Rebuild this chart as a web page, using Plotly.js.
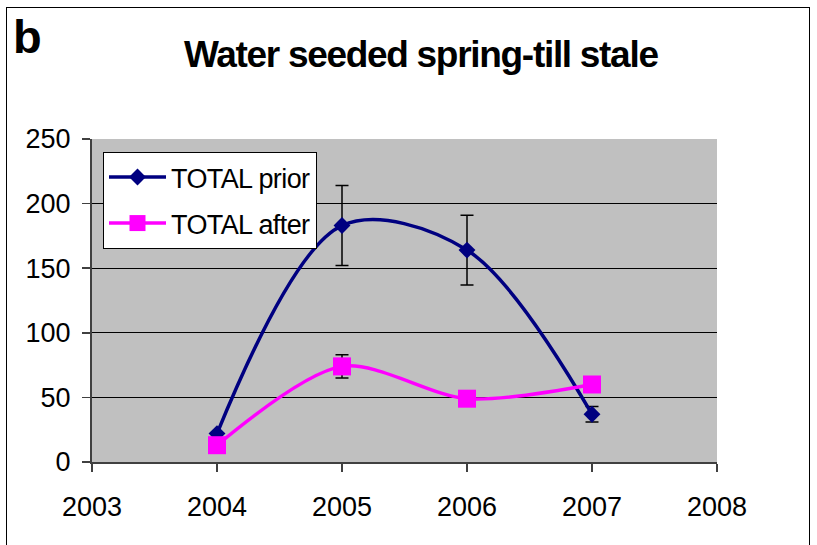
<!DOCTYPE html>
<html>
<head>
<meta charset="utf-8">
<script src="https://cdn.plot.ly/plotly-3.0.1.min.js"></script>
<style>
  html, body { margin: 0; padding: 0; background: #ffffff; }
  #wrap { position: relative; width: 817px; height: 545px; }
  #chart { width: 817px; height: 545px; }
  #frame { position: absolute; left: 6px; top: 7px; width: 804px; height: 560px;
           border: 1.5px solid #000; box-sizing: border-box; pointer-events: none; }
  .annotation-text { letter-spacing: -1.3px; }
  .legendtext { letter-spacing: -0.6px; }
</style>
</head>
<body>
<div id="wrap">
  <div id="chart"></div>
  <div id="frame"></div>
</div>
<script>
const years = [2004, 2005, 2006, 2007];
const totalPrior = [22, 183, 164, 37];
const totalPriorErr = [null, 31, 27, 6];
const totalAfter = [13, 74, 49, 60];
const totalAfterErr = [null, 9, null, null];
const xTicks = [2003, 2004, 2005, 2006, 2007, 2008];
const yTicks = [0, 50, 100, 150, 200, 250];

const font = 'Liberation Sans, Arial, sans-serif';

const traces = [
  {
    x: years, y: totalPrior, name: 'TOTAL prior', legendgroup: 'a',
    type: 'scatter', mode: 'lines+markers',
    line: { color: '#000080', width: 3.5, shape: 'spline', smoothing: 0.95 },
    marker: { symbol: 'diamond', size: 13, color: '#000080' },
    error_y: { type: 'data', array: totalPriorErr, visible: true, color: '#000000', thickness: 1.5, width: 6.5 }
  },
  {
    x: years, y: totalAfter, name: 'TOTAL after', legendgroup: 'b',
    type: 'scatter', mode: 'lines+markers',
    line: { color: '#FF00FF', width: 3.5, shape: 'spline', smoothing: 0.85 },
    marker: { symbol: 'square', size: 18, color: '#FF00FF' },
    error_y: { type: 'data', array: totalAfterErr, visible: true, color: '#000000', thickness: 1.5, width: 6.5 }
  }
];

const layout = {
  width: 817, height: 545,
  margin: { l: 92, r: 100, t: 139, b: 83 },
  paper_bgcolor: '#ffffff',
  plot_bgcolor: '#C0C0C0',
  font: { family: font, color: '#000000', size: 26 },
  showlegend: true,
  legend: {
    x: 0.0176, y: 0.96, xanchor: 'left', yanchor: 'top',
    bgcolor: '#ffffff', bordercolor: '#000000', borderwidth: 1,
    font: { family: font, size: 27, color: '#000000' },
    tracegroupgap: 8, traceorder: 'grouped', itemwidth: 57
  },
  xaxis: {
    range: [2003, 2008], tickvals: xTicks, ticktext: xTicks.map(String),
    showgrid: false, zeroline: false,
    showline: true, linecolor: '#404040', linewidth: 2,
    ticks: 'outside', ticklen: 8, tickcolor: '#404040', tickwidth: 1.5,
    tickfont: { family: font, size: 27, color: '#000000' },
    ticklabelstandoff: 12
  },
  yaxis: {
    range: [0, 250], tickvals: yTicks, ticktext: yTicks.map(String),
    showgrid: true, gridcolor: '#000000', gridwidth: 1,
    zeroline: false,
    showline: true, linecolor: '#404040', linewidth: 2,
    ticks: 'outside', ticklen: 8, tickcolor: '#404040', tickwidth: 1.5,
    tickfont: { family: font, size: 27, color: '#000000' },
    ticklabelstandoff: 6
  },
  annotations: [
    { text: '<b>Water seeded spring-till stale</b>', xref: 'paper', yref: 'paper',
      x: (421 - 92) / 625, y: (462 - 53) / 324, xanchor: 'center', yanchor: 'middle',
      showarrow: false, font: { family: font, size: 37, color: '#000000' } },
    { text: '<b>b</b>', xref: 'paper', yref: 'paper',
      x: (11 - 92) / 625, y: (462 - 35) / 324, xanchor: 'left', yanchor: 'middle',
      showarrow: false, font: { family: font, size: 47, color: '#000000' } }
  ]
};

Plotly.newPlot('chart', traces, layout, { displayModeBar: false, staticPlot: true });
</script>
</body>
</html>
